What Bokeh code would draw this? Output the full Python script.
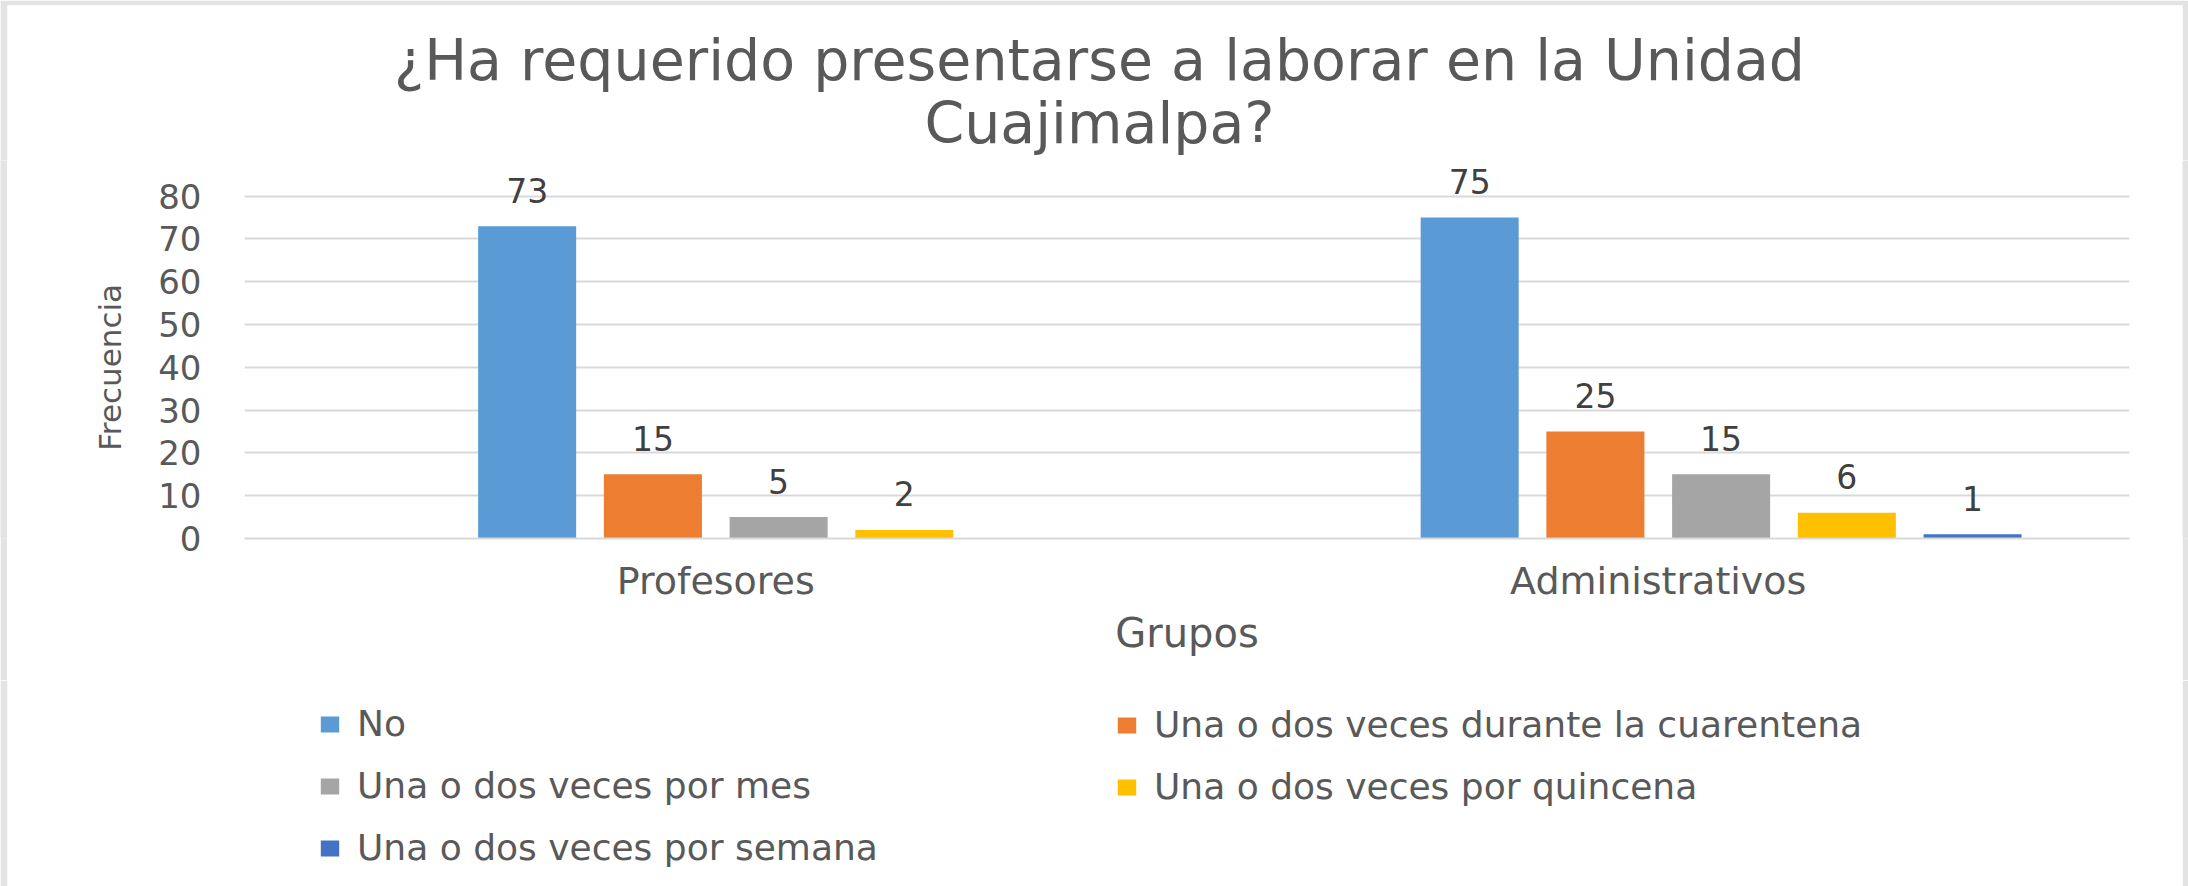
from math import pi
from bokeh.plotting import figure
from bokeh.layouts import column, row
from bokeh.models import (ColumnDataSource, FactorRange, FixedTicker, Legend, LegendItem, Range1d)
from bokeh.transform import dodge
from bokeh.core.properties import value
from bokeh.embed import file_html
from bokeh.resources import INLINE

# ---- data ----
groups = ["Profesores", "Administrativos"]
series_names = ["No",
                "Una o dos veces durante la cuarentena",
                "Una o dos veces por mes",
                "Una o dos veces por quincena",
                "Una o dos veces por semana"]
no_vals = [73, 75]
cuarentena_vals = [15, 25]
mes_vals = [5, 15]
quincena_vals = [2, 6]
semana_vals = [None, 1]
y_ticks = [0, 10, 20, 30, 40, 50, 60, 70, 80]
title_lines = ["¿Ha requerido presentarse a laborar en la Unidad", "Cuajimalpa?"]
x_title = "Grupos"
y_title = "Frecuencia"

# ---- style ----
colors = ["#5B9BD5", "#ED7D31", "#A5A5A5", "#FFC000", "#4472C4"]
offsets = [-0.2001, -0.0667, 0.0667, 0.2001, 0.3335]
bar_w = 0.104
FONT = "DejaVu Sans"
TXT = "#595959"
EDGE = "#E3E3E3"
NAN = float("nan")


def blank(x0, x1, y0, y1, left=0, right=0, top=0, bottom=0, fill="white", border=EDGE):
    """A plain panel whose data coordinates equal page pixels (y downwards)."""
    f = figure(width=x1 - x0, height=y1 - y0,
               x_range=Range1d(x0 + left, x1 - right),
               y_range=Range1d(y1 - bottom, y0 + top),
               output_backend="svg", toolbar_location=None,
               min_border_left=left, min_border_right=right,
               min_border_top=top, min_border_bottom=bottom,
               x_axis_location=None, y_axis_location=None)
    f.grid.visible = False
    f.outline_line_color = None
    f.background_fill_color = fill
    f.border_fill_color = border
    return f


# ---- title strip (page y 0..160) ----
top = blank(0, 2188, 0, 160, left=7, right=6, top=5)
top.text(x=[1099, 1099], y=[59, 122], text=title_lines, text_align="center",
         text_baseline="middle", text_font=value(FONT), text_font_size="57px",
         text_color=TXT)

# ---- main chart (page x 138..2182, y 160..680) ----
p = figure(width=2044, height=520, x_range=FactorRange(*groups), y_range=(0, 88.34),
           output_backend="svg", toolbar_location=None,
           min_border_left=106, min_border_right=53, min_border_top=0, min_border_bottom=142)
p.x_range.range_padding = 0
p.background_fill_color = "white"
p.border_fill_color = "white"
p.outline_line_color = None

all_vals = [no_vals, cuarentena_vals, mes_vals, quincena_vals, semana_vals]
for name, vals, col, off in zip(series_names, all_vals, colors, offsets):
    cats = [g for g, v in zip(groups, vals) if v is not None]
    vs = [v for v in vals if v is not None]
    src = ColumnDataSource(dict(cat=cats, val=vs, lab=[str(v) for v in vs]))
    p.vbar(x=dodge("cat", off, range=p.x_range), top="val", width=bar_w, source=src,
           fill_color=col, line_color=None)
    p.text(x=dodge("cat", off, range=p.x_range), y="val", text="lab", source=src,
           text_align="center", text_baseline="middle", y_offset=-36,
           text_font=value(FONT), text_font_size="33px", text_color="#404040")

p.yaxis.ticker = FixedTicker(ticks=y_ticks)
p.ygrid.ticker = FixedTicker(ticks=y_ticks)
p.ygrid.grid_line_color = "#D9D9D9"
p.ygrid.grid_line_width = 2
p.xgrid.grid_line_color = None
p.yaxis.axis_line_color = None
p.yaxis.major_tick_line_color = None
p.yaxis.minor_tick_line_color = None
p.yaxis.major_label_standoff = 37
p.yaxis.major_label_text_font = FONT
p.yaxis.major_label_text_font_size = "34px"
p.yaxis.major_label_text_color = TXT

p.xaxis.axis_line_color = "#D9D9D9"
p.xaxis.axis_line_width = 2
p.xaxis.major_tick_line_color = None
p.xaxis.major_label_standoff = 14
p.xaxis.major_label_text_font = FONT
p.xaxis.major_label_text_font_size = "38px"
p.xaxis.major_label_text_color = TXT
p.xaxis.axis_label = x_title
p.xaxis.axis_label_standoff = 4
p.xaxis.axis_label_text_font = FONT
p.xaxis.axis_label_text_font_size = "40px"
p.xaxis.axis_label_text_font_style = "normal"
p.xaxis.axis_label_text_color = TXT

# ---- y title panel: its frame lines up with the chart frame, sharing the y scale ----
left = figure(width=131, height=520, x_range=Range1d(7, 138), y_range=p.y_range,
              output_backend="svg", toolbar_location=None,
              min_border_left=0, min_border_right=0, min_border_top=0, min_border_bottom=142,
              x_axis_location=None, y_axis_location=None)
left.grid.visible = False
left.outline_line_color = None
left.background_fill_color = "white"
left.border_fill_color = "white"
left.text(x=[109], y=[(y_ticks[0] + y_ticks[-1]) / 2], text=[y_title], angle=pi / 2,
          text_align="center", text_baseline="middle", text_font=value(FONT),
          text_font_size="31px", text_color=TXT)

# ---- gray edge strips ----
lstrip = blank(0, 7, 160, 680, fill=EDGE)
rstrip = blank(2182, 2188, 160, 680, fill=EDGE)

# ---- legend strip (page y 680..886) ----
bottom = blank(0, 2188, 680, 886, left=7, right=6)
swatches = [bottom.vbar(x=[NAN], top=[NAN], width=1, fill_color=col, line_color=None)
            for col in colors]


def make_legend(idx, loc):
    lg = Legend(items=[LegendItem(label=series_names[i], renderers=[swatches[i]]) for i in idx],
                location=loc, orientation="vertical", padding=0, margin=0, spacing=21,
                glyph_width=23, glyph_height=20, label_height=40, label_standoff=16,
                label_text_font=FONT, label_text_font_size="36px", label_text_color=TXT,
                border_line_color=None, background_fill_alpha=0)
    bottom.add_layout(lg, "center")


make_legend([0, 2, 4], (311, 18))
make_legend([1, 3], (1108, 79))

layout = column(top, row(lstrip, left, p, rstrip), bottom)
open("out.html", "w").write(file_html(layout, INLINE))
